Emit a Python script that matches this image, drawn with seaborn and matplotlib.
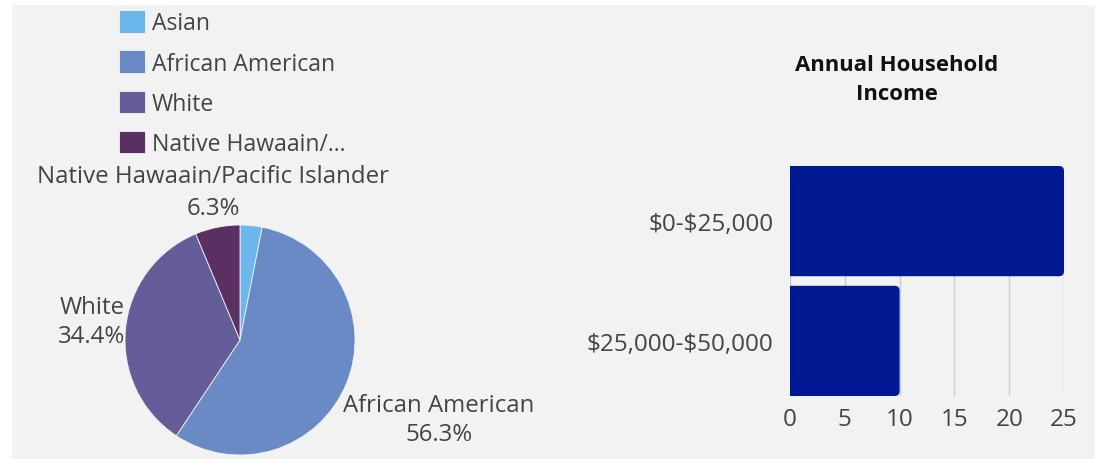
import seaborn as sns
import matplotlib.pyplot as plt
import pandas as pd
import numpy as np
from matplotlib.patches import Rectangle, FancyBboxPatch

# 데이터
race_labels = ['Asian', 'African American', 'White', 'Native Hawaain/Pacific Islander']
legend_labels = ['Asian', 'African American', 'White', 'Native Hawaain/...']
race_pct = [3.1, 56.3, 34.4, 6.3]
race_colors = ['#6cb8ee', '#6a8ac6', '#655c9a', '#5a3063']

income_labels = ['\\$0-\\$25,000', '\\$25,000-\\$50,000']
income_counts = [25, 10]
bar_color = '#001993'

sns.set_theme(style='white')
plt.rcParams['font.family'] = ['Open Sans', 'DejaVu Sans']
text_color = '#444444'
fs = 16.6

W, H = 1099, 460
fig = plt.figure(figsize=(W / 100, H / 100), dpi=100, facecolor='white')
fig.patches.append(Rectangle((12 / W, 0), (1095 - 12) / W, (H - 6) / H,
                             transform=fig.transFigure, facecolor='#f2f2f2',
                             edgecolor='none', zorder=-10))

# 파이 차트
cx, cy, r = 240, 341, 115
ax1 = fig.add_axes([(cx - r) / W, (H - cy - r) / H, 2 * r / W, 2 * r / H])
ax1.set_facecolor('none')
wedges, _ = ax1.pie(race_pct, colors=race_colors, startangle=90, counterclock=False,
                    wedgeprops=dict(linewidth=0.6, edgecolor='#f2f2f2'))
ax1.set_xlim(-1, 1)
ax1.set_ylim(-1, 1)
ax1.set_aspect('equal')

label_pos = {1: (1.73, -0.69, 1.3), 2: (-1.29, 0.16, 1.27), 3: (-0.235, 1.285, 1.45)}
for i, (x, y, ls) in label_pos.items():
    ax1.text(x, y, f'{race_labels[i]}\n{race_pct[i]:.1f}%', ha='center', va='center',
             fontsize=17.3, color=text_color, linespacing=ls, clip_on=False)

fig.legend(wedges, legend_labels, loc='upper left', bbox_to_anchor=(110 / W, 1 - 2 / H),
           frameon=False, fontsize=fs, handlelength=1.12, handleheight=1.12,
           handletextpad=0.28, labelspacing=0.66, borderaxespad=0, labelcolor=text_color)

# 막대 그래프
ax2 = fig.add_axes([790 / W, (H - 397) / H, (1064 - 790) / W, 230 / H])
ax2.set_facecolor('none')
df_income = pd.DataFrame({'income': income_labels, 'count': income_counts})
sns.barplot(data=df_income, x='count', y='income', color=bar_color, width=0.92,
            saturation=1, ax=ax2)
ax2.set_xlim(0, 25)
ax2.set_ylim(len(income_labels) - 1 + 0.46, -0.46)
ax2.set_xticks([0, 5, 10, 15, 20, 25])
ax2.xaxis.grid(True, color='#cccccc', linewidth=1)
ax2.set_axisbelow(True)
for s in ax2.spines.values():
    s.set_visible(False)
ax2.tick_params(axis='both', length=0, labelsize=17.5, labelcolor=text_color)
ax2.tick_params(axis='y', pad=12)
ax2.tick_params(axis='x', pad=8)
ax2.set_xlabel('')
ax2.set_ylabel('')

# 오른쪽 모서리 둥글게
rad = 0.45
for p in list(ax2.patches):
    x0, y0, w, h = p.get_x(), p.get_y(), p.get_width(), p.get_height()
    p.set_visible(False)
    fb = FancyBboxPatch((x0 - 2 * rad, y0), w + 2 * rad, h,
                        boxstyle=f'round,pad=0,rounding_size={rad}',
                        mutation_aspect=0.09, facecolor=bar_color, edgecolor='none',
                        zorder=3)
    ax2.add_patch(fb)

fig.text(897 / W, 1 - 80 / H, 'Annual Household\nIncome', ha='center', va='center',
         fontsize=15.9, fontweight='bold', color='#111111', linespacing=1.55)

fig.savefig('out.png', dpi=100, facecolor='white')
